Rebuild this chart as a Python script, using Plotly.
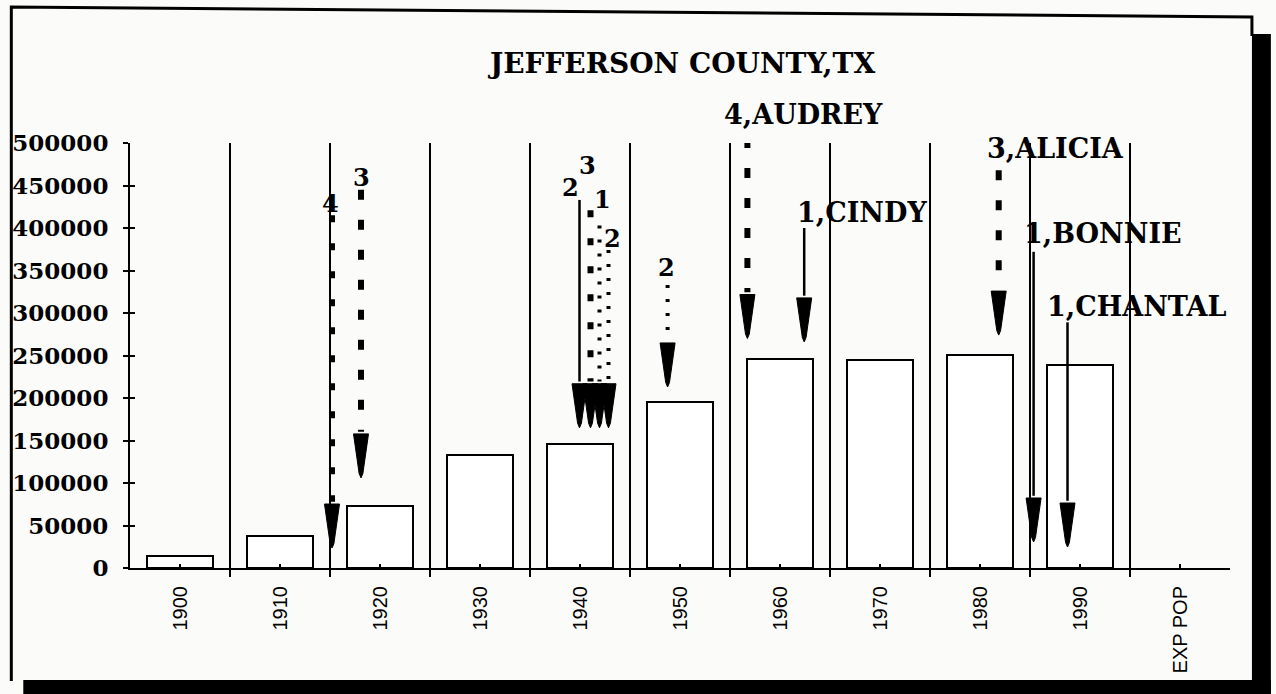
import plotly.graph_objects as go

# ---------------- data ----------------
years = ["1900", "1910", "1920", "1930", "1940", "1950", "1960", "1970", "1980", "1990", "EXP POP"]
population = [14239, 38182, 73120, 133391, 145329, 195083, 245659, 244773, 250938, 239397, None]
y_ticks = [0, 50000, 100000, 150000, 200000, 250000, 300000, 350000, 400000, 450000, 500000]

arrow_labels = ["4", "3", "2", "3", "1", "2", "2", "4,AUDREY", "1,CINDY", "3,ALICIA", "1,BONNIE", "1,CHANTAL"]
arrow_x = [1.52, 1.81, 3.995, 4.105, 4.195, 4.285, 4.876, 5.674, 6.242, 8.187, 8.536, 8.875]
arrow_from = [415000, 445000, 433000, 421000, 403000, 374000, 333000, 506000, 400000, 468000, 372000, 289000]
arrow_to = [23500, 106000, 165000, 165000, 165000, 165000, 213000, 270000, 266000, 274000, 30600, 24700]
arrow_kind = ["square", "dash", "solid", "square", "dot", "dot", "dot", "dash", "solid", "dash", "solid", "solid"]
label_x = [1.50, 1.81, 3.905, 4.075, 4.225, 4.325, 4.866, 5.424, 6.152, 8.047, 8.416, 8.646]
label_y = [429000, 459000, 448000, 474000, 433000, 388000, 353000, 533000, 418000, 494000, 394000, 308000]

# ---------------- layout geometry ----------------
W, H = 1276, 694
L, R, T, B = 127, 1230, 143, 568
Y_MAX = 500000
N = len(years)


def px_x(p):
    return (p - L) / (R - L)


def px_y(p):
    return (B - p) / (B - T)


styles = {
    "solid": dict(dash="solid", width=2.5),
    "dash": dict(dash="10px,20px", width=6),
    "square": dict(dash="7px,21px", width=6),
    "dot": dict(dash="3px,11px", width=4),
}
HEAD_LEN = 44 / (B - T) * Y_MAX
HEAD_HW = 0.075

SERIF = "DejaVu Serif"

fig = go.Figure()

fig.add_trace(go.Bar(
    x=list(range(N)), y=population, width=0.66,
    marker=dict(color="white", line=dict(color="black", width=2)),
    hoverinfo="skip", showlegend=False,
))

for i, lab in enumerate(arrow_labels):
    x = arrow_x[i]
    tip = arrow_to[i]
    base = tip + HEAD_LEN
    st = styles[arrow_kind[i]]
    fig.add_trace(go.Scatter(
        x=[x, x], y=[arrow_from[i], base + HEAD_LEN * 0.05], mode="lines",
        line=dict(color="black", width=st["width"], dash=st["dash"]),
        hoverinfo="skip", showlegend=False,
    ))
    fig.add_trace(go.Scatter(
        x=[x - HEAD_HW, x + HEAD_HW, x + HEAD_HW * 0.25, x, x - HEAD_HW * 0.25, x - HEAD_HW],
        y=[base, base, tip + HEAD_LEN * 0.1, tip, tip + HEAD_LEN * 0.1, base],
        mode="lines", fill="toself", fillcolor="black",
        line=dict(color="black", width=1),
        hoverinfo="skip", showlegend=False,
    ))
    is_name = "," in lab
    fig.add_annotation(
        x=label_x[i], xref="x", y=label_y[i] / Y_MAX, yref="paper",
        text=lab, showarrow=False,
        xanchor="left" if is_name else "center", yanchor="middle",
        font=dict(family=SERIF, size=27 if is_name else 24, color="black", weight="bold"),
    )

# invisible trace for the overlay axis (crossing tick marks)
fig.add_trace(go.Scatter(x=[0], y=[0], yaxis="y2", mode="markers",
                         marker=dict(opacity=0), hoverinfo="skip", showlegend=False))

fig.add_annotation(
    x=px_x(680), xref="paper", y=px_y(63), yref="paper",
    text="JEFFERSON COUNTY,TX", showarrow=False, xanchor="center", yanchor="middle",
    font=dict(family=SERIF, size=28, color="black", weight="bold"),
)

# page frame and shadow of the scanned sheet
shapes = [
    dict(type="rect", xref="paper", yref="paper", x0=px_x(1252), x1=px_x(1271), y0=px_y(694), y1=px_y(34),
         fillcolor="black", line=dict(width=0), layer="above"),
    dict(type="rect", xref="paper", yref="paper", x0=px_x(20), x1=px_x(1271), y0=px_y(694), y1=px_y(680),
         fillcolor="black", line=dict(width=0), layer="above"),
    dict(type="path", xref="paper", yref="paper",
         path=f"M {px_x(8)},{px_y(681)} L {px_x(8)},{px_y(7)} L {px_x(1252)},{px_y(17)} L {px_x(1252)},{px_y(36)}",
         line=dict(color="black", width=3), layer="above"),
]

fig.update_layout(
    width=W, height=H,
    margin=dict(l=L, r=W - R, t=T, b=H - B, pad=0),
    paper_bgcolor="#fbfbf9", plot_bgcolor="rgba(0,0,0,0)",
    shapes=shapes, showlegend=False, bargap=0,
    xaxis=dict(
        range=[-0.5, N - 0.5], tickmode="array", tickvals=list(range(N)), ticktext=years,
        tickangle=-90, ticks="inside", ticklen=4, tickwidth=1.5, tickcolor="black",
        ticklabelstandoff=8,
        showline=True, linecolor="black", linewidth=2, showgrid=False, zeroline=False,
        tickfont=dict(family="Liberation Sans", size=20, color="black"),
        minor=dict(tickmode="array", tickvals=[k - 0.5 for k in range(N + 1)],
                   ticks="outside", ticklen=7, tickwidth=2, tickcolor="black",
                   showgrid=True, gridcolor="black", gridwidth=2),
        fixedrange=True,
    ),
    yaxis=dict(
        range=[0, Y_MAX], tickmode="array", tickvals=y_ticks, ticktext=[str(v) for v in y_ticks],
        ticks="outside", ticklen=5, tickwidth=1.5, tickcolor="black", ticklabelstandoff=10,
        showline=True, linecolor="black", linewidth=2, showgrid=False, zeroline=False,
        tickfont=dict(family=SERIF, size=23, color="black", weight="bold"),
        fixedrange=True,
    ),
    yaxis2=dict(
        range=[0, Y_MAX], overlaying="y", side="left", anchor="x",
        tickmode="array", tickvals=y_ticks, showticklabels=False,
        ticks="inside", ticklen=5, tickwidth=1.5, tickcolor="black",
        showline=False, showgrid=False, zeroline=False, fixedrange=True,
    ),
)

fig.write_html(
    "out.html",
    config={"displayModeBar": False},
    post_script="document.body.style.margin='0px';document.body.style.overflow='hidden';",
)
